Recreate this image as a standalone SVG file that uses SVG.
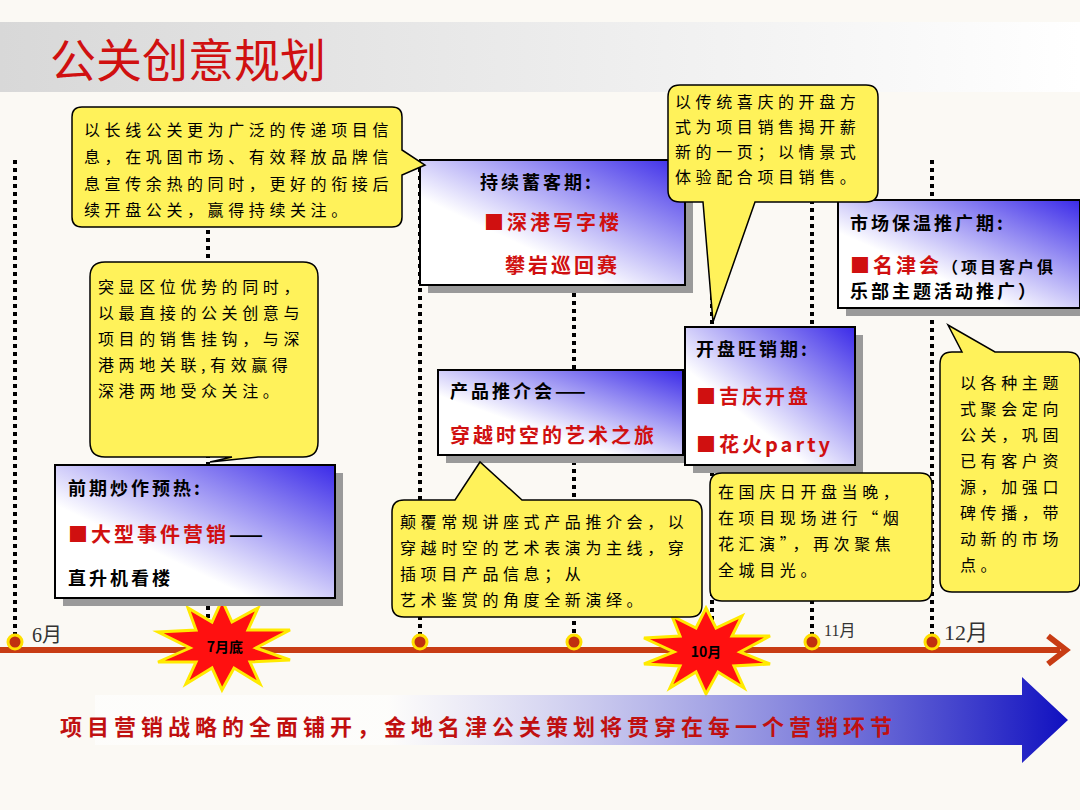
<svg xmlns="http://www.w3.org/2000/svg" width="1080" height="810" viewBox="0 0 1080 810">
<defs>
<linearGradient id="hdr" x1="0" y1="0" x2="1" y2="0"><stop offset="0" stop-color="#d8d8d8"/><stop offset="1" stop-color="#ffffff"/></linearGradient>
<linearGradient id="box" x1="0" y1="1" x2="1" y2="0"><stop offset="0.35" stop-color="#ffffff"/><stop offset="1" stop-color="#3a2ae8"/></linearGradient>
<linearGradient id="arr" x1="0" y1="0" x2="1" y2="0"><stop offset="0.3" stop-color="#ffffff" stop-opacity="0.6"/><stop offset="1" stop-color="#1010c0"/></linearGradient>
<style>
.bx{fill:url(#box);stroke:#000;stroke-width:2}
.sh{fill:#9a9a9a}
.cl{fill:#fff25a;stroke:#000;stroke-width:1.5}
.t{font-family:"Noto Sans CJK SC",sans-serif;font-size:16px;letter-spacing:4.6px;fill:#000}
.h{font-family:"Noto Sans CJK SC",sans-serif;font-size:18px;letter-spacing:3px;font-weight:bold;fill:#000}
.r{font-family:"Noto Sans CJK SC",sans-serif;font-size:20px;letter-spacing:3px;font-weight:bold;fill:#d01010}
.dl{stroke:#000;stroke-width:4;stroke-dasharray:4 4}
</style>
</defs>
<rect width="1080" height="810" fill="#fbf9f4"/>
<rect x="0" y="22" width="1080" height="70" fill="url(#hdr)"/>
<text x="50" y="77" font-family="Noto Sans CJK SC,sans-serif" font-size="46" fill="#d01010">公关创意规划</text>
<g id="connectors">
<line class="dl" x1="15" y1="160" x2="15" y2="640"/>
<line class="dl" x1="208" y1="230" x2="208" y2="640"/>
<line class="dl" x1="420" y1="160" x2="420" y2="640"/>
<line class="dl" x1="574" y1="285" x2="574" y2="640"/>
<line class="dl" x1="712" y1="160" x2="712" y2="640"/>
<line class="dl" x1="812" y1="160" x2="812" y2="640"/>
<line class="dl" x1="932" y1="160" x2="932" y2="640"/>
<line x1="0" y1="650" x2="1060" y2="650" stroke="#c83c14" stroke-width="6"/>
<polyline points="1048,636 1066,650 1048,664" fill="none" stroke="#c83c14" stroke-width="6"/>
<g fill="#c03010" stroke="#ffe000" stroke-width="3">
<circle cx="15" cy="642" r="7"/><circle cx="420" cy="642" r="7"/><circle cx="574" cy="642" r="7"/><circle cx="812" cy="642" r="7"/><circle cx="932" cy="642" r="7"/>
</g>
</g>
<g font-family="Liberation Serif,Noto Sans CJK SC,serif" font-size="20" fill="#333">
<text x="32" y="642">6月</text><text x="824" y="636" font-size="16">11月</text><text x="944" y="640" font-size="22">12月</text>
</g>
<g id="star1"><polygon points="222,600 232,622 258,608 248,630 290,630 256,648 290,660 250,662 260,684 234,668 222,690 212,668 186,684 196,662 158,662 190,648 158,632 196,630 188,608 212,622" fill="#ff1010" stroke="#ffea00" stroke-width="3"/>
<text x="225" y="652" text-anchor="middle" font-family="Noto Sans CJK SC,sans-serif" font-size="14" font-weight="bold">7月底</text></g>
<g id="star2"><polygon points="706,608 716,628 742,616 732,636 770,636 740,652 770,664 734,666 744,688 718,672 706,694 696,672 670,688 680,666 644,664 674,652 644,638 680,636 672,616 696,628" fill="#ff1010" stroke="#ffea00" stroke-width="3"/>
<text x="706" y="657" text-anchor="middle" font-family="Noto Sans CJK SC,sans-serif" font-size="14" font-weight="bold">10月</text></g>
<g id="bigarrow"><polygon points="95,695 1022,695 1022,677 1068,720 1022,763 1022,745 95,745" fill="url(#arr)"/>
<text x="60" y="735" font-family="Noto Sans CJK SC,sans-serif" font-size="22" letter-spacing="5" font-weight="bold" fill="#c01010">项目营销战略的全面铺开，金地名津公关策划将贯穿在每一个营销环节</text></g>

<g id="b1"><rect class="sh" x="63" y="473" width="280" height="133"/><rect class="bx" x="55" y="465" width="280" height="133"/>
<text class="h" x="68" y="495">前期炒作预热:</text>
<text class="r" x="68" y="542" font-size="22">■大型事件营销<tspan fill="#000">——</tspan></text>
<text class="h" x="68" y="585">直升机看楼</text></g>
<g id="b2"><rect class="sh" x="428" y="168" width="265" height="125"/><rect class="bx" x="420" y="160" width="265" height="125"/>
<text class="h" x="480" y="189">持续蓄客期:</text>
<text class="r" x="484" y="230">■深港写字楼</text>
<text class="r" x="505" y="273">攀岩巡回赛</text></g>
<g id="b3"><rect class="sh" x="446" y="378" width="245" height="85"/><rect class="bx" x="438" y="370" width="245" height="85"/>
<text class="h" x="450" y="398">产品推介会——</text>
<text class="r" x="450" y="443" font-size="18" letter-spacing="2">穿越时空的艺术之旅</text></g>
<g id="b4"><rect class="sh" x="693" y="335" width="170" height="138"/><rect class="bx" x="685" y="327" width="170" height="138"/>
<text class="h" x="696" y="356">开盘旺销期:</text>
<text class="r" x="696" y="404" font-size="22">■吉庆开盘</text>
<text class="r" x="696" y="452" font-size="22" letter-spacing="2">■花火party</text></g>
<g id="b5"><rect class="sh" x="846" y="208" width="242" height="108"/><rect class="bx" x="838" y="200" width="242" height="108"/>
<text class="h" x="850" y="230">市场保温推广期:</text>
<text class="r" x="850" y="273" letter-spacing="2">■名津会<tspan fill="#000" font-size="16">（项目客户俱</tspan></text>
<text class="h" x="850" y="298" font-size="16">乐部主题活动推广）</text></g>

<g id="c1"><path class="cl" d="M82,107 H392 Q402,107 402,117 V150 L425,165 L402,175 V217 Q402,227 392,227 H82 Q72,227 72,217 V117 Q72,107 82,107 Z"/>
<text class="t" x="84" y="136">以长线公关更为广泛的传递项目信</text>
<text class="t" x="84" y="163">息，在巩固市场、有效释放品牌信</text>
<text class="t" x="84" y="190">息宣传余热的同时，更好的衔接后</text>
<text class="t" x="84" y="216">续开盘公关，赢得持续关注。</text></g>
<g id="c2"><path class="cl" d="M105,262 H303 Q318,262 318,277 V442 Q318,457 303,457 H258 L210,462 L232,457 H105 Q90,457 90,442 V277 Q90,262 105,262 Z"/>
<text class="t" x="98" y="293">突显区位优势的同时，</text>
<text class="t" x="98" y="319">以最直接的公关创意与</text>
<text class="t" x="98" y="345">项目的销售挂钩，与深</text>
<text class="t" x="98" y="371">港两地关联,有效赢得</text>
<text class="t" x="98" y="397">深港两地受众关注。</text></g>
<g id="c3"><path class="cl" d="M680,85 H866 Q878,85 878,97 V190 Q878,202 866,202 H755 L713,322 L703,202 H680 Q668,202 668,190 V97 Q668,85 680,85 Z"/>
<text class="t" x="675" y="108">以传统喜庆的开盘方</text>
<text class="t" x="675" y="133">式为项目销售揭开薪</text>
<text class="t" x="675" y="158">新的一页；以情景式</text>
<text class="t" x="675" y="183">体验配合项目销售。</text></g>
<g id="c4"><path class="cl" d="M404,500 H455 L480,462 L522,500 H690 Q702,500 702,512 V605 Q702,617 690,617 H404 Q392,617 392,605 V512 Q392,500 404,500 Z"/>
<text class="t" x="400" y="528">颠覆常规讲座式产品推介会，以</text>
<text class="t" x="400" y="554">穿越时空的艺术表演为主线，穿</text>
<text class="t" x="400" y="580">插项目产品信息；从</text>
<text class="t" x="400" y="606">艺术鉴赏的角度全新演绎。</text></g>
<g id="c5"><path class="cl" d="M722,473 H920 Q932,473 932,485 V589 Q932,601 920,601 H722 Q710,601 710,589 V485 Q710,473 722,473 Z"/>
<text class="t" x="718" y="498">在国庆日开盘当晚，</text>
<text class="t" x="718" y="524">在项目现场进行“烟</text>
<text class="t" x="718" y="550">花汇演”，再次聚焦</text>
<text class="t" x="718" y="576">全城目光。</text></g>
<g id="c6"><path class="cl" d="M952,352 H962 L948,325 L995,352 H1068 Q1080,352 1080,364 V580 Q1080,592 1068,592 H952 Q940,592 940,580 V364 Q940,352 952,352 Z"/>
<text class="t" x="960" y="389">以各种主题</text>
<text class="t" x="960" y="415">式聚会定向</text>
<text class="t" x="960" y="441">公关，巩固</text>
<text class="t" x="960" y="467">已有客户资</text>
<text class="t" x="960" y="493">源，加强口</text>
<text class="t" x="960" y="519">碑传播，带</text>
<text class="t" x="960" y="545">动新的市场</text>
<text class="t" x="960" y="571">点。</text></g>
</svg>
